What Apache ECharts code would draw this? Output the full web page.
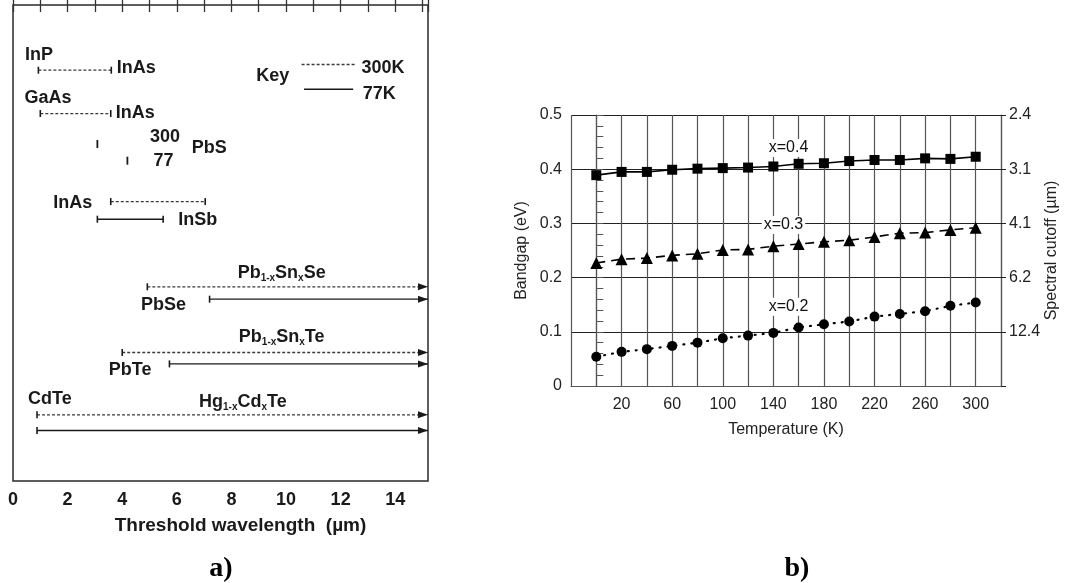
<!DOCTYPE html>
<html>
<head>
    <meta charset="utf-8">
    <title>Detector materials</title>
    <script src="https://cdn.jsdelivr.net/npm/echarts@6.0.0/dist/echarts.min.js"></script>
    <style>
        body { margin: 0; background: #fff; }
        #chart { width: 1065px; height: 583px; }
    </style>
</head>
<body>
    <div id="chart"></div>
    <script type="text/javascript">
        // ---- panel a: threshold wavelength ranges ----
        var rangeFrom = [0.93, 1.0, 3.58, 3.09, 4.92, 7.2, 4.0, 5.73, 0.88, 0.88];
        var rangeTo = [3.6, 3.58, 7.04, 5.5, 15.2, 15.2, 15.2, 15.2, 15.2, 15.2];
        var rangeRow = [13.7, 22.8, 41.3, 45.0, 59.2, 61.8, 73.0, 75.4, 86.1, 89.4];
        var rangeTemp = ['300K', '300K', '300K', '77K', '300K', '77K', '300K', '77K', '300K', '77K'];
        var pbsCutoff = [3.09, 4.19];
        var pbsRow = [29.2, 32.7];
        var wavelengthMax = 15.2;

        // labels of panel a: text, x (µm), row, align
        var labelText = ['InP', 'InAs', 'GaAs', 'InAs', '300', '77', 'PbS', 'InAs', 'InSb',
            '{m|Pb}{s|1-x}{m|Sn}{s|x}{m|Se}', 'PbSe', '{m|Pb}{s|1-x}{m|Sn}{s|x}{m|Te}', 'PbTe',
            'CdTe', '{m|Hg}{s|1-x}{m|Cd}{s|x}{m|Te}', 'Key', '300K', '77K'];
        var labelX = [0.95, 3.8, 1.28, 3.76, 5.57, 5.51, 7.19, 2.19, 6.77, 9.84, 5.51, 9.84, 4.29, 1.35, 8.42, 9.51, 12.76, 12.81];
        var labelRow = [10.5, 13.2, 19.5, 22.7, 27.7, 32.8, 30.0, 41.6, 45.2, 56.3, 63.0, 69.8, 76.7, 82.8, 83.4, 14.9, 13.2, 18.7];
        var labelAlign = ['center', 'left', 'center', 'left', 'center', 'center', 'center', 'center', 'center',
            'center', 'center', 'center', 'center', 'center', 'center', 'center', 'left', 'left'];
        var keyFrom = [10.57, 10.66];
        var keyTo = [12.52, 12.46];
        var keyRow = [12.5, 17.7];
        var keyTemp = ['300K', '77K'];

        // ---- panel b: bandgap vs temperature ----
        var temps = [0, 20, 40, 60, 80, 100, 120, 140, 160, 180, 200, 220, 240, 260, 280, 300];
        var gap04 = [0.389, 0.395, 0.395, 0.399, 0.401, 0.402, 0.403, 0.405, 0.410, 0.411, 0.415, 0.417, 0.417, 0.420, 0.419, 0.423];
        var gap03 = [0.227, 0.234, 0.236, 0.241, 0.244, 0.251, 0.252, 0.258, 0.262, 0.266, 0.269, 0.275, 0.282, 0.283, 0.288, 0.292];
        var gap02 = [0.054, 0.063, 0.068, 0.074, 0.080, 0.088, 0.093, 0.098, 0.108, 0.114, 0.119, 0.128, 0.133, 0.138, 0.148, 0.154];
        var cutoffLabels = ['', '12.4', '6.2', '4.1', '3.1', '2.4'];
        var compText = ['x=0.4', 'x=0.3', 'x=0.2'];
        var compT = [152, 148, 152];
        var compGap = [0.439, 0.297, 0.146];

        var FONT = 'Liberation Sans';
        var scanColor = '#1a1a1a';

        function tempStyle(t) {
            if (t === '300K') {
                return { color: '#3a3a3a', width: 1.3, type: [3, 2] };
            }
            return { color: '#1a1a1a', width: 1.4, type: 'solid' };
        }

        var series = [];

        // range bars with end caps / arrows
        rangeFrom.forEach(function (f, i) {
            var open = rangeTo[i] >= wavelengthMax;
            series.push({
                type: 'line', xAxisIndex: 0, yAxisIndex: 0, silent: true,
                lineStyle: tempStyle(rangeTemp[i]),
                itemStyle: { color: scanColor, opacity: 1 },
                data: [
                    { value: [f, rangeRow[i]], symbol: 'rect', symbolSize: [1.6, 7] },
                    {
                        value: [rangeTo[i], rangeRow[i]],
                        symbol: open ? 'path://M0,0L10,5L0,10Z' : 'rect',
                        symbolSize: open ? [10, 7] : [1.6, 7],
                        symbolOffset: open ? [-5, 0] : [0, 0]
                    }
                ]
            });
        });

        // key lines
        keyFrom.forEach(function (f, i) {
            series.push({
                type: 'line', xAxisIndex: 0, yAxisIndex: 0, silent: true, symbol: 'none',
                lineStyle: tempStyle(keyTemp[i]),
                data: [[f, keyRow[i]], [keyTo[i], keyRow[i]]]
            });
        });

        // PbS single cutoffs
        series.push({
            type: 'scatter', xAxisIndex: 0, yAxisIndex: 0, silent: true,
            symbol: 'rect', symbolSize: [1.8, 8],
            itemStyle: { color: scanColor, opacity: 1 },
            data: pbsCutoff.map(function (c, i) { return [c, pbsRow[i]]; })
        });

        // panel a texts
        series.push({
            type: 'scatter', xAxisIndex: 0, yAxisIndex: 0, silent: true, symbolSize: 0,
            itemStyle: { opacity: 1 },
            data: labelText.map(function (t, i) {
                return {
                    value: [labelX[i], labelRow[i]],
                    label: { formatter: t, align: labelAlign[i] }
                };
            }),
            label: {
                show: true, position: 'inside', verticalAlign: 'middle',
                color: scanColor, fontFamily: FONT, fontSize: 18, fontWeight: 'bold',
                rich: {
                    m: { fontFamily: FONT, fontSize: 18, fontWeight: 'bold', color: scanColor },
                    s: { fontFamily: FONT, fontSize: 10, fontWeight: 'bold', color: scanColor, padding: [10, 0, 0, 0] }
                }
            }
        });

        // panel b series
        function pts(arr) {
            return temps.map(function (t, i) { return [t, arr[i]]; });
        }
        series.push({
            name: 'x=0.4', type: 'line', xAxisIndex: 2, yAxisIndex: 1,
            data: pts(gap04), symbol: 'rect', symbolSize: 10,
            itemStyle: { color: '#000' },
            lineStyle: { color: '#000', width: 1.6 }
        });
        series.push({
            name: 'x=0.3', type: 'line', xAxisIndex: 2, yAxisIndex: 1,
            data: pts(gap03), symbol: 'triangle', symbolSize: 12,
            itemStyle: { color: '#000' },
            lineStyle: { color: '#000', width: 1.6, type: [9, 6] }
        });
        series.push({
            name: 'x=0.2', type: 'line', xAxisIndex: 2, yAxisIndex: 1,
            data: pts(gap02), symbol: 'circle', symbolSize: 10,
            itemStyle: { color: '#000' },
            lineStyle: { color: '#000', width: 2.2, type: [1, 7], cap: 'round' }
        });
        series.push({
            type: 'scatter', xAxisIndex: 2, yAxisIndex: 1, silent: true, symbolSize: 0, z: 5,
            itemStyle: { opacity: 1 },
            data: compText.map(function (t, i) { return { value: [compT[i], compGap[i]], name: t }; }),
            label: {
                show: true, position: 'inside', formatter: '{b}',
                fontFamily: FONT, fontSize: 16, color: '#111',
                backgroundColor: '#fff', padding: [1, 2]
            }
        });

        var option = {
            animation: false,
            backgroundColor: '#fff',
            textStyle: { fontFamily: FONT },
            grid: [
                { left: 13, top: 5, width: 415, height: 476, show: true, borderColor: '#2a2a2a', borderWidth: 1.5 },
                { left: 571, top: 115, width: 430, height: 271 }
            ],
            xAxis: [
                {
                    gridIndex: 0, type: 'value', min: 0, max: wavelengthMax, interval: 1,
                    axisLine: { show: false },
                    axisTick: { show: true, inside: true, length: 6, lineStyle: { color: '#333', width: 1.3 } },
                    axisLabel: {
                        margin: 10, fontSize: 18, fontWeight: 'bold', color: scanColor, fontFamily: FONT,
                        formatter: function (v) { return (Number.isInteger(v) && v % 2 === 0) ? String(v) : ''; }
                    },
                    splitLine: { show: false },
                    name: 'Threshold wavelength  (µm)', nameLocation: 'middle', nameGap: 35,
                    nameTextStyle: { fontSize: 19, fontWeight: 'bold', color: scanColor, fontFamily: FONT, padding: [0, 0, 0, 40] }
                },
                {
                    gridIndex: 0, type: 'value', position: 'top', min: 0, max: wavelengthMax, interval: 1,
                    axisLine: { show: false },
                    axisTick: { show: true, inside: true, length: 7, lineStyle: { color: '#333', width: 1.3 } },
                    axisLabel: { show: false }, splitLine: { show: false }
                },
                {
                    gridIndex: 1, type: 'value', min: -20, max: 320, interval: 20,
                    axisLine: { show: true, lineStyle: { color: '#555', width: 1.2 } },
                    axisTick: { show: false },
                    axisLabel: {
                        margin: 11, fontSize: 16, color: '#222', fontFamily: FONT,
                        formatter: function (v) { return (v >= 20 && v <= 300 && (v - 20) % 40 === 0) ? String(v) : ''; }
                    },
                    splitLine: { show: true, lineStyle: { color: '#555', width: 1.2 } },
                    name: 'Temperature (K)', nameLocation: 'middle', nameGap: 36,
                    nameTextStyle: { fontSize: 16, color: '#222', fontFamily: FONT }
                }
            ],
            yAxis: [
                { gridIndex: 0, type: 'value', min: 0, max: 100, inverse: true, show: false },
                {
                    gridIndex: 1, type: 'value', min: 0, max: 0.5, interval: 0.1,
                    axisLine: { show: true, lineStyle: { color: '#555', width: 1.2 } },
                    axisTick: { show: true, inside: true, length: 7, lineStyle: { color: '#555' } },
                    minorTick: { show: true, splitNumber: 5, length: 7, lineStyle: { color: '#555', width: 1 } },
                    axisLabel: {
                        margin: 9, fontSize: 16, color: '#222', fontFamily: FONT,
                        formatter: function (v) { return v === 0 ? '0' : v.toFixed(1); }
                    },
                    splitLine: { show: true, lineStyle: { color: '#222', width: 1.2 } },
                    name: 'Bandgap (eV)', nameLocation: 'middle', nameGap: 41, nameRotate: 90,
                    nameTextStyle: { fontSize: 16, color: '#222', fontFamily: FONT }
                },
                {
                    gridIndex: 1, type: 'value', position: 'right', min: 0, max: 0.5, interval: 0.1,
                    axisLine: { show: true, lineStyle: { color: '#555', width: 1.2 } },
                    axisTick: { show: true, length: 5, lineStyle: { color: '#222' } },
                    axisLabel: {
                        margin: 8, fontSize: 16, color: '#222', fontFamily: FONT,
                        formatter: function (v) { return cutoffLabels[Math.round(v * 10)]; }
                    },
                    splitLine: { show: false },
                    name: 'Spectral cutoff (µm)', nameLocation: 'middle', nameGap: 33, nameRotate: 90,
                    nameTextStyle: { fontSize: 16, color: '#222', fontFamily: FONT }
                }
            ],
            graphic: [
                { type: 'text', x: 221, y: 569, style: { text: 'a)', font: 'bold 28px "Liberation Serif"', fill: '#000', align: 'center', verticalAlign: 'middle' } },
                { type: 'text', x: 797, y: 569, style: { text: 'b)', font: 'bold 28px "Liberation Serif"', fill: '#000', align: 'center', verticalAlign: 'middle' } }
            ],
            series: series
        };

        var myChart = echarts.init(document.getElementById('chart'), null, { renderer: 'canvas' });
        myChart.setOption(option);
    </script>
</body>
</html>
